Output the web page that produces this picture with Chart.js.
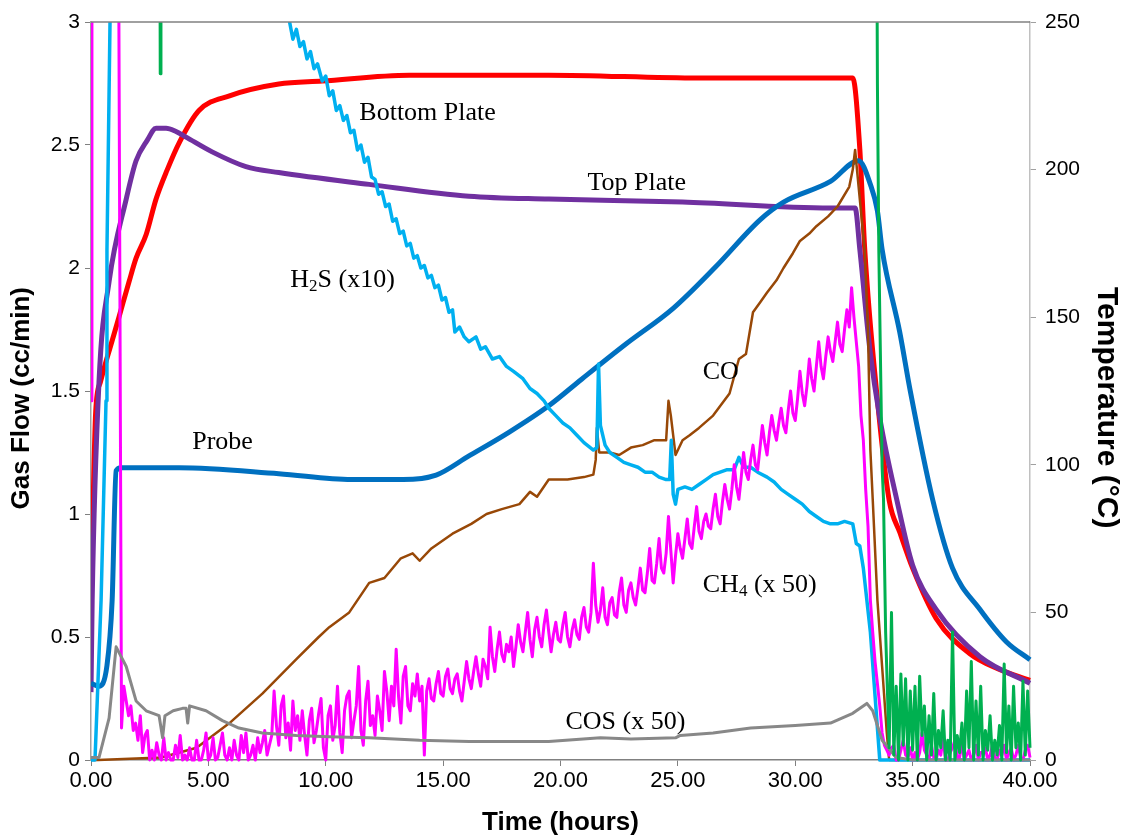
<!DOCTYPE html>
<html>
<head>
<meta charset="utf-8">
<title>Gas flow and temperature</title>
<script src="https://cdn.jsdelivr.net/npm/chart.js@4.4.1/dist/chart.umd.min.js"></script>
<style>
  html, body { margin: 0; padding: 0; background: #fff; }
  canvas { display: block; }
</style>
</head>
<body>
<canvas id="chart" width="1121" height="838"></canvas>
<script>
// Temperatures (°C, right axis)
const bottomHours = [0, 0.2, 0.4, 0.64, 0.9, 1.19, 1.62, 1.92, 2.35, 2.77, 3.25, 3.75, 4.6, 5.9, 8.0, 9.85, 13.56, 19.5, 25.9, 32.45, 32.75, 32.96, 33.5, 34.0, 34.46, 35.0, 36.0, 37.44, 38.6, 40];
const bottomTemp = [54, 118, 128, 135, 142, 150, 162, 170, 178, 190, 200, 209, 220, 225, 229, 230, 232, 232, 231, 231, 207, 173, 122, 88, 77, 65, 48, 36, 31, 27];

const topHours = [0, 0.05, 0.34, 0.77, 1.5, 1.92, 2.4, 2.77, 3.2, 3.6, 4.05, 5.16, 6.6, 8.0, 11.85, 16.1, 19.5, 25.2, 31.5, 32.55, 32.75, 33.18, 33.6, 34.33, 35.0, 36.0, 37.87, 40];
const topTemp = [23, 54, 128, 162, 190, 203, 210, 214, 214, 213, 211, 206, 201, 199, 195, 191, 190, 189, 187, 187, 173, 139, 116, 88, 66, 51, 35, 26];

const probeHours = [0, 0.34, 0.68, 0.9, 1.07, 1.28, 3.75, 8.0, 11.1, 13.3, 14.7, 16.1, 17.8, 19.5, 20.9, 22.8, 24.8, 26.6, 28.5, 29.5, 31.5, 32.7, 33.2, 33.5, 33.7, 34.45, 34.9, 35.86, 36.7, 37.87, 39.0, 40];
const probeTemp = [26, 25, 32, 54, 98, 99, 99, 97, 95, 95, 96.5, 103, 111, 120, 129, 141, 153, 167, 183, 189, 196, 203, 195, 186, 173, 145, 125, 88, 65, 51, 40, 34];

// Gas flows (cc/min, left axis)
const h2sHours = [0, 0.17, 0.43, 0.64, 0.68, 0.81, 1.2, 4.0,
  8.44, 8.6, 8.75, 8.9, 9.05, 9.2, 9.35, 9.5, 9.65, 9.85, 10.0, 10.15, 10.3, 10.45, 10.6, 10.75, 10.9, 11.05, 11.2, 11.35, 11.5, 11.65, 11.8, 11.95,
  12.1, 12.25, 12.4, 12.55, 12.7, 12.85, 13.0, 13.15, 13.3, 13.45, 13.6, 13.75, 13.9, 14.05, 14.2, 14.35, 14.5, 14.65, 14.8, 14.95, 15.1, 15.25, 15.4,
  15.5, 15.7, 15.9, 16.1, 16.4, 16.6, 16.8, 17.1, 17.4, 17.7, 18.0, 18.4, 18.7, 19.0, 19.3, 19.5, 19.8, 20.1, 20.4, 20.7, 21.0, 21.4, 21.55, 21.62, 21.7,
  21.9, 22.1, 22.4, 22.7, 23.0, 23.3, 23.6, 23.9, 24.2, 24.5, 24.65, 24.72, 24.8, 24.9, 25.0, 25.3, 25.6, 25.9, 26.2, 26.5, 26.8, 27.1, 27.4, 27.6, 27.8,
  28.1, 28.4, 28.8, 29.1, 29.4, 29.7, 30.0, 30.3, 30.6, 30.9, 31.2, 31.5, 31.8, 32.1, 32.45, 32.6, 32.75, 32.9, 33.2, 33.6, 40];
const h2sFlow = [0, 0, 0.65, 1.46, 2.07, 3.0, 3.9, 3.6,
  3.01, 2.93, 2.97, 2.90, 2.92, 2.85, 2.88, 2.81, 2.83, 2.76, 2.78, 2.70, 2.72, 2.64, 2.66, 2.60, 2.62, 2.55, 2.56, 2.48, 2.50, 2.43, 2.45, 2.37,
  2.36, 2.30, 2.31, 2.25, 2.26, 2.19, 2.20, 2.14, 2.15, 2.09, 2.10, 2.04, 2.05, 2.00, 2.01, 1.96, 1.97, 1.92, 1.93, 1.87, 1.88, 1.82, 1.83,
  1.74, 1.76, 1.72, 1.70, 1.72, 1.67, 1.68, 1.63, 1.64, 1.60, 1.58, 1.55, 1.51, 1.49, 1.46, 1.43, 1.40, 1.37, 1.35, 1.32, 1.29, 1.26, 1.27, 1.61, 1.36,
  1.28, 1.25, 1.23, 1.21, 1.20, 1.19, 1.17, 1.17, 1.15, 1.14, 1.14, 1.30, 1.08, 1.04, 1.10, 1.11, 1.10, 1.12, 1.14, 1.16, 1.17, 1.18, 1.18, 1.23, 1.19,
  1.19, 1.17, 1.15, 1.13, 1.10, 1.08, 1.06, 1.04, 1.01, 0.99, 0.97, 0.96, 0.96, 0.97, 0.96, 0.88, 0.87, 0.78, 0.52, 0, 0];

const coHours = [0, 0.3, 3.0, 4.5, 5.9, 7.3, 8.75, 9.7, 10.15, 11.0, 11.85, 12.5, 13.2, 13.7, 14.0, 14.5, 15.4, 16.2, 16.85, 17.5, 18.25, 18.7, 19.0, 19.5, 20.3, 21.0, 21.4, 21.5, 21.55, 21.65, 22.1, 22.5, 23.0, 23.5, 24.0, 24.5, 24.6, 24.7, 24.9, 25.2, 25.5, 25.9, 26.5, 27.2, 27.6, 27.9, 28.2, 28.5, 28.8, 29.2, 29.5, 29.9, 30.2, 30.6, 30.9, 31.4, 31.8, 32.3, 32.45, 32.55, 32.7, 32.96, 33.1, 33.2, 33.3, 33.5, 33.7, 33.9, 34.0, 40];
const coFlow = [0, 0, 0.01, 0.05, 0.15, 0.27, 0.41, 0.5, 0.54, 0.6, 0.72, 0.74, 0.82, 0.84, 0.81, 0.86, 0.92, 0.96, 1.0, 1.02, 1.04, 1.09, 1.07, 1.14, 1.14, 1.15, 1.16, 1.22, 1.35, 1.25, 1.25, 1.24, 1.27, 1.28, 1.30, 1.30, 1.46, 1.40, 1.24, 1.30, 1.32, 1.35, 1.40, 1.49, 1.63, 1.65, 1.82, 1.86, 1.90, 1.95, 2.0, 2.06, 2.11, 2.14, 2.17, 2.21, 2.25, 2.33, 2.40, 2.48, 2.33, 2.07, 1.74, 1.26, 1.06, 0.65, 0.38, 0.11, 0, 0];

const cosHours = [0, 0.34, 0.77, 1.07, 1.5, 1.92, 2.35, 2.9, 3.05, 3.15, 3.5, 3.9, 4.05, 4.12, 4.2, 4.9, 5.6, 6.3, 7.3, 8.75, 10.15, 11.85, 14.0, 16.1, 19.5, 21.7, 23.0, 24.9, 25.1, 26.5, 28.1, 30.0, 31.5, 32.45, 33.05, 33.3, 33.7, 34.3, 35, 40];
const cosFlow = [0.01, 0.01, 0.17, 0.46, 0.38, 0.24, 0.2, 0.18, 0.09, 0.18, 0.2, 0.21, 0.21, 0.15, 0.22, 0.2, 0.16, 0.13, 0.11, 0.1, 0.095, 0.09, 0.08, 0.075, 0.075, 0.09, 0.085, 0.09, 0.1, 0.11, 0.13, 0.14, 0.15, 0.19, 0.23, 0.2, 0.08, 0.01, 0, 0];

// CH4: start-up spike, then logged every 0.1 h from 1.4 h (one row per hour)
const ch4HeadHours = [0, 0.04, 1.15, 1.3];
const ch4HeadFlow = [1.46, 4, 4, 0.13];
const ch4Start = 1.4, ch4Step = 0.1;
const ch4Flow = [
  0.30, 0.24, 0.18, 0.22, 0.12, 0.15,
  0.08, 0.18, 0.03, 0.10, 0.12, 0.00, 0.04, 0.00, 0.07, 0.02,
  0.00, 0.09, 0.00, 0.03, 0.00, 0.00, 0.06, 0.01, 0.10, 0.00,
  0.02, 0.00, 0.05, 0.00, 0.00, 0.08, 0.00, 0.00, 0.04, 0.11,
  0.00, 0.02, 0.09, 0.00, 0.01, 0.06, 0.11, 0.02, 0.00, 0.05,
  0.00, 0.08, 0.02, 0.00, 0.10, 0.03, 0.11, 0.00, 0.02, 0.06,
  0.00, 0.09, 0.03, 0.07, 0.12, 0.02, 0.06, 0.10, 0.28, 0.14,
  0.06, 0.22, 0.26, 0.09, 0.15, 0.04, 0.24, 0.12, 0.18, 0.08,
  0.20, 0.10, 0.02, 0.16, 0.21, 0.07, 0.12, 0.19, 0.25, 0.05,
  0.00, 0.18, 0.22, 0.08, 0.14, 0.30, 0.11, 0.03, 0.20, 0.26,
  0.28, 0.09, 0.16, 0.22, 0.38, 0.12, 0.06, 0.24, 0.32, 0.14,
  0.18, 0.10, 0.26, 0.20, 0.12, 0.36, 0.28, 0.16, 0.30, 0.22,
  0.45, 0.26, 0.15, 0.34, 0.38, 0.22, 0.20, 0.31, 0.26, 0.35,
  0.24, 0.30, 0.02, 0.28, 0.33, 0.25, 0.24, 0.31, 0.36, 0.27,
  0.26, 0.34, 0.37, 0.29, 0.27, 0.33, 0.35, 0.28, 0.24, 0.32,
  0.40, 0.33, 0.29, 0.36, 0.42, 0.35, 0.30, 0.41, 0.38, 0.33,
  0.54, 0.42, 0.36, 0.45, 0.52, 0.43, 0.40, 0.47, 0.44, 0.50,
  0.38, 0.46, 0.55, 0.48, 0.44, 0.52, 0.60, 0.49, 0.42, 0.53,
  0.58, 0.50, 0.46, 0.55, 0.61, 0.52, 0.44, 0.51, 0.56, 0.49,
  0.48, 0.55, 0.60, 0.50, 0.46, 0.53, 0.57, 0.51, 0.49, 0.58,
  0.62, 0.54, 0.52, 0.60, 0.80, 0.63, 0.56, 0.61, 0.70, 0.58,
  0.55, 0.64, 0.66, 0.59, 0.58, 0.68, 0.74, 0.63, 0.60, 0.69,
  0.72, 0.66, 0.63, 0.70, 0.78, 0.69, 0.68, 0.76, 0.86, 0.73,
  0.72, 0.80, 0.90, 0.78, 0.76, 0.84, 0.99, 0.85, 0.72, 0.83,
  0.92, 0.86, 0.82, 0.90, 0.98, 0.88, 0.86, 0.95, 1.03, 0.93,
  0.90, 0.97, 1.00, 0.95, 0.94, 1.02, 1.08, 0.99, 0.96, 1.05,
  1.12, 1.06, 1.02, 1.10, 1.20, 1.11, 1.06, 1.15, 1.25, 1.17,
  1.14, 1.22, 1.28, 1.20, 1.18, 1.27, 1.36, 1.29, 1.24, 1.33,
  1.40, 1.34, 1.30, 1.37, 1.43, 1.36, 1.33, 1.42, 1.50, 1.41,
  1.38, 1.47, 1.58, 1.49, 1.44, 1.52, 1.63, 1.55, 1.50, 1.60,
  1.70, 1.60, 1.55, 1.64, 1.72, 1.66, 1.62, 1.70, 1.78, 1.69,
  1.66, 1.75, 1.83, 1.76, 1.92, 1.80, 1.70, 1.60, 1.40, 1.30,
  1.10, 0.95, 0.65, 0.52, 0.40, 0.31, 0.22, 0.11, 0.06, 0.04,
  0.02, 0.05, 0.06, 0.00, 0.00, 0.04, 0.08, 0.02, 0.01, 0.05,
  0.00, 0.03, 0.00, 0.03, 0.11, 0.04, 0.02, 0.00, 0.06, 0.01,
  0.00, 0.04, 0.02, 0.09, 0.00, 0.00, 0.03, 0.05, 0.08, 0.01,
  0.01, 0.07, 0.00, 0.02, 0.04, 0.00, 0.02, 0.06, 0.00, 0.03,
  0.03, 0.05, 0.00, 0.02, 0.06, 0.01, 0.00, 0.04, 0.02, 0.06,
  0.00, 0.03, 0.05, 0.00, 0.02, 0.06, 0.01, 0.00, 0.04, 0.06,
  0.01
];

// unlabelled green trace: off scale until shutdown, then logged every 0.1 h from 34 h
const greenHeadHours = [0, 2.92, 2.95, 2.98, 33.45, 33.5, 33.56, 33.7, 33.76, 33.85];
const greenHeadFlow = [4, 4, 2.79, 4, 4, 2.75, 2.07, 1.19, 1.06, 0.52];
const greenStart = 34.0, greenStep = 0.1;
const greenFlow = [
  0.05, 0.60, 0.02, 0.30, 0.00, 0.35, 0.06, 0.33, 0.00, 0.28, 0.04, 0.30, 0.00, 0.34, 0.10, 0.22,
  0.00, 0.18, 0.02, 0.27, 0.00, 0.12, 0.05, 0.20, 0.00, 0.08, 0.00, 0.52, 0.00, 0.10, 0.03, 0.15,
  0.00, 0.28, 0.05, 0.40, 0.00, 0.24, 0.02, 0.30, 0.00, 0.12, 0.04, 0.18, 0.00, 0.08, 0.02, 0.14,
  0.00, 0.39, 0.03, 0.22, 0.00, 0.30, 0.05, 0.15, 0.00, 0.32, 0.02, 0.28, 0.05
];

// text labels placed in data units [hours, cc/min]; "_n" marks a subscript
const noteText = ['Bottom Plate', 'Top Plate', 'H_2S (x10)', 'Probe', 'CO', 'CH_4 (x 50)', 'COS (x 50)'];
const noteHours = [11.43, 21.15, 8.49, 4.31, 26.06, 26.06, 20.21];
const noteFlow = [2.63, 2.345, 1.95, 1.29, 1.577, 0.711, 0.154];

const sampleHours = (start, step, n) => Array.from({ length: n }, (_, i) => +(start + i * step).toFixed(2));
const ch4Hours = ch4HeadHours.concat(sampleHours(ch4Start, ch4Step, ch4Flow.length));
const ch4All = ch4HeadFlow.concat(ch4Flow);
const greenHours = greenHeadHours.concat(sampleHours(greenStart, greenStep, greenFlow.length));
const greenAll = greenHeadFlow.concat(greenFlow);

function series(label, hours, values, color, width, axis, smooth) {
  return {
    label,
    data: hours.map((h, i) => ({ x: h, y: values[i] })),
    borderColor: color,
    backgroundColor: color,
    borderWidth: width,
    pointRadius: 0,
    cubicInterpolationMode: smooth ? 'monotone' : 'default',
    tension: 0,
    yAxisID: axis,
    borderJoinStyle: 'round',
    clip: { left: 0, top: 0, right: 3, bottom: 3 }
  };
}

// first dataset is drawn on top
const datasets = [
  series('Green', greenHours, greenAll, '#00B050', 3, 'y'),
  series('COS (x 50)', cosHours, cosFlow, '#888888', 3, 'y'),
  series('CH4 (x 50)', ch4Hours, ch4All, '#FF00FF', 3, 'y'),
  series('H2S (x10)', h2sHours, h2sFlow, '#00B0F0', 3.5, 'y'),
  series('CO', coHours, coFlow, '#984807', 2.5, 'y'),
  series('Probe', probeHours, probeTemp, '#0070C0', 5, 'y1', true),
  series('Top Plate', topHours, topTemp, '#7030A0', 5, 'y1', true),
  series('Bottom Plate', bottomHours, bottomTemp, '#FF0000', 5, 'y1', true)
];

const sans = '"Liberation Sans", Arial, sans-serif';
const tickFont = { family: sans, size: 21 };

function drawNote(ctx, text, x, y) {
  const parts = text.split(/_(\d)/);
  let cx = x;
  parts.forEach((part, i) => {
    const sub = i % 2 === 1;
    ctx.font = sub ? '17px "Liberation Serif", "Times New Roman", serif' : '26px "Liberation Serif", "Times New Roman", serif';
    ctx.fillText(part, cx, sub ? y + 6 : y);
    cx += ctx.measureText(part).width;
  });
}

const framePlugin = {
  id: 'frameAndNotes',
  afterDatasetsDraw(chart) {
    const { ctx, chartArea: a, scales } = chart;
    ctx.save();
    ctx.strokeStyle = '#808080';
    ctx.lineWidth = 1.5;
    ctx.beginPath();
    ctx.moveTo(a.left, a.top);
    ctx.lineTo(a.right, a.top);
    ctx.stroke();

    ctx.fillStyle = '#000';
    ctx.textBaseline = 'middle';
    ctx.textAlign = 'left';
    noteText.forEach((t, i) => {
      drawNote(ctx, t, scales.x.getPixelForValue(noteHours[i]), scales.y.getPixelForValue(noteFlow[i]));
    });
    ctx.restore();
  }
};

new Chart(document.getElementById('chart'), {
  type: 'line',
  data: { datasets },
  options: {
    responsive: false,
    animation: false,
    layout: { padding: { top: 22, left: 0, right: 0, bottom: 0 } },
    plugins: { legend: { display: false }, tooltip: { enabled: false } },
    scales: {
      x: {
        type: 'linear',
        min: 0,
        max: 40,
        ticks: { stepSize: 5, callback: v => v.toFixed(2), color: '#000', font: { family: sans, size: 22 }, padding: 2, maxRotation: 0 },
        grid: { drawOnChartArea: false, tickLength: 6, color: '#808080' },
        border: { color: '#808080', width: 1.5 },
        title: { display: true, text: 'Time (hours)', color: '#000', font: { family: sans, size: 26, weight: 'bold', lineHeight: 1.2 }, padding: { top: 0, bottom: 0 } },
        afterFit: s => { s.height = 78; }
      },
      y: {
        position: 'left',
        min: 0,
        max: 3,
        ticks: { stepSize: 0.5, callback: v => String(v), color: '#000', font: tickFont, padding: 5 },
        grid: { drawOnChartArea: false, tickLength: 6, color: '#808080' },
        border: { color: '#a0a0a0', width: 1.5 },
        // trailing spaces nudge the rotated title a little below the axis centre
        title: { display: true, text: 'Gas Flow (cc/min)  ', color: '#000', font: { family: sans, size: 26, weight: 'bold', lineHeight: 1.2 }, padding: { top: 6, bottom: 0 } },
        afterFit: s => { s.width = 91; }
      },
      y1: {
        position: 'right',
        min: 0,
        max: 250,
        ticks: { stepSize: 50, color: '#000', font: tickFont, padding: 9 },
        grid: { drawOnChartArea: false, tickLength: 6, color: '#a0a0a0' },
        border: { color: '#c0c0c0', width: 1.5 },
        title: { display: true, text: '    Temperature (°C)', color: '#000', font: { family: sans, size: 30, weight: 'bold', lineHeight: 1 }, padding: { top: 0, bottom: 0 } },
        afterFit: s => { s.width = 91; }
      }
    }
  },
  plugins: [framePlugin]
});
</script>
</body>
</html>
